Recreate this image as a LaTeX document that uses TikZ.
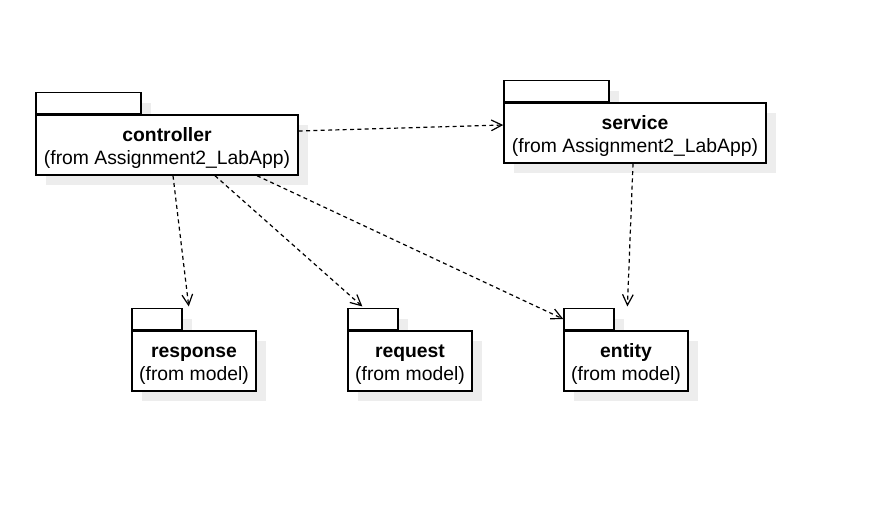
\documentclass[tikz,border=0pt]{standalone}
\usepackage{fontspec}
\setmainfont{Liberation Sans}
\usetikzlibrary{arrows.meta,shadows,backgrounds}
\tikzset{>={Straight Barb[length=8pt,width=8pt]}}

\newcommand{\pkgname}[1]{\rule{0pt}{15pt}\textbf{#1}}

\tikzset{
	pkg/.style={draw, line width=1.1pt, fill=white, inner sep=0pt,
		minimum height=45pt, align=center,
		font=\fontsize{14.5}{17.25}\selectfont,
		general shadow={fill=black!7, shadow xshift=7.5pt, shadow yshift=-7.5pt}},
	bigpkg/.style={pkg, minimum width=196.5pt},
	smallpkg/.style={pkg, minimum width=93pt},
	pkgtab/.style={draw, line width=1.1pt, fill=white, inner sep=0pt,
		minimum height=15.75pt, anchor=south west,
		general shadow={fill=black!7, shadow xshift=7.5pt, shadow yshift=-7.5pt}},
	bigtab/.style={pkgtab, minimum width=78.75pt},
	smalltab/.style={pkgtab, minimum width=37.5pt},
	dep/.style={->, line width=0.9pt, dash pattern=on 3pt off 2.5pt}
}

\begin{document}
\begin{tikzpicture}[x=0.75pt, y=-0.75pt]
	\useasboundingbox (0,0) rectangle (877,505);

	% package bodies
	\node[bigpkg] (controller) at (167,145) {\pkgname{controller}\\(from Assignment2\_LabApp)};
	\node[bigpkg] (service) at (635,133) {\pkgname{service}\\(from Assignment2\_LabApp)};
	\node[smallpkg] (response) at (194,361) {\pkgname{response}\\(from model)};
	\node[smallpkg] (request) at (410,361) {\pkgname{request}\\(from model)};
	\node[smallpkg] (entity) at (626,361) {\pkgname{entity}\\(from model)};

	% package tabs
	\begin{scope}[on background layer]
		\node[bigtab] (controller-tab) at (controller.north west) {};
		\node[bigtab] (service-tab) at (service.north west) {};
		\node[smalltab] (response-tab) at (response.north west) {};
		\node[smalltab] (request-tab) at (request.north west) {};
		\node[smalltab] (entity-tab) at (entity.north west) {};
	\end{scope}

	% dependencies
	\draw[dep] ([yshift=10.5pt]controller.east) -- ([yshift=6pt]service.west);
	\draw[dep] ([xshift=4.5pt]controller.south) -- ([xshift=4.5pt,yshift=1pt]response-tab.north east);
	\draw[dep] ([xshift=36pt]controller.south) -- ([xshift=-8pt,yshift=1pt]request-tab.north);
	\draw[dep] ([xshift=67.5pt]controller.south) -- (entity-tab.west);
	\draw[dep] ([xshift=-1.5pt]service.south) -- ([xshift=9.5pt,yshift=1pt]entity-tab.north east);
\end{tikzpicture}
\end{document}
